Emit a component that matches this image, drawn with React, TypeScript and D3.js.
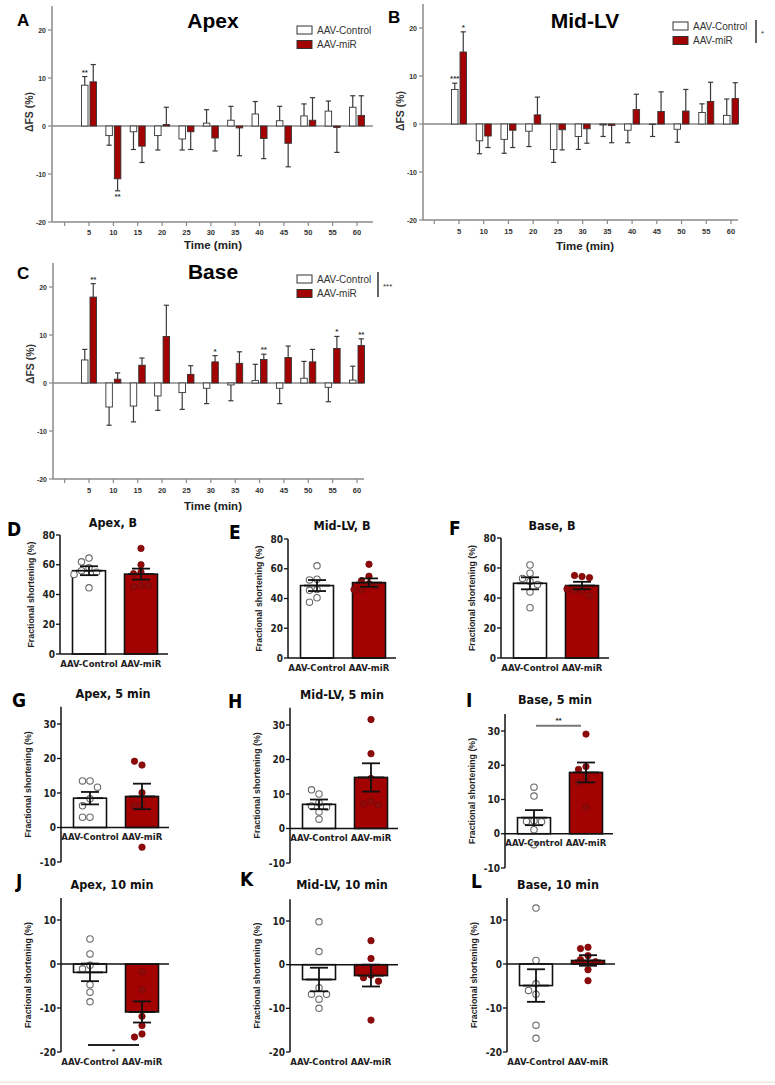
import * as d3 from "d3";

const RED = "#a30202";
const DOT_RED = "#8f0b0b";
const AXIS_GRAY = "#8a8a8a";
const SANS = "'Liberation Sans', Arial, Helvetica, sans-serif";
const NARROW = "'Liberation Sans Narrow', 'Arial Narrow', 'DejaVu Sans Condensed', sans-serif";

// time course (A-C)
const TIMES = [5, 10, 15, 20, 25, 30, 35, 40, 45, 50, 55, 60];
const X_TICKS = [0, ...TIMES];
const Y_TICKS_BIG = [20, 10, 0, -10, -20];
const GROUPS = ["AAV-Control", "AAV-miR"];

const apexCtrl = [8.5, -2.0, -1.2, -2.0, -2.7, 0.6, 1.2, 2.5, 1.1, 2.1, 3.1, 3.9];
const apexCtrlSem = [1.8, 2.0, 3.7, 3.0, 2.3, 2.8, 2.9, 2.6, 3.0, 2.5, 2.1, 2.4];
const apexMiR = [9.2, -11.0, -4.2, 0.3, -1.2, -2.5, -0.4, -2.6, -3.6, 1.2, -0.3, 2.2];
const apexMiRSem = [3.6, 2.5, 3.4, 3.6, 3.7, 2.7, 5.8, 4.2, 4.9, 4.7, 5.2, 4.1];

const midCtrl = [7.2, -3.5, -3.2, -1.5, -5.3, -2.6, -0.2, -1.3, -0.1, -1.1, 2.4, 1.8];
const midCtrlSem = [1.3, 2.7, 2.9, 3.2, 2.7, 2.7, 2.4, 2.6, 2.5, 2.7, 1.8, 3.4];
const midMiR = [15.0, -2.5, -1.3, 1.9, -1.2, -1.0, -0.3, 3.0, 2.6, 2.7, 4.7, 5.3];
const midMiRSem = [4.2, 2.4, 3.6, 3.7, 4.2, 3.0, 3.6, 3.2, 4.1, 4.5, 4.0, 3.3];

const baseCtrl = [4.8, -5.0, -4.8, -2.7, -2.0, -1.1, -0.4, 0.5, -1.1, 1.0, -0.9, 0.6];
const baseCtrlSem = [2.2, 3.8, 3.3, 3.0, 3.5, 3.2, 3.3, 3.4, 3.2, 3.5, 3.0, 2.9];
const baseMiR = [17.9, 0.8, 3.7, 9.7, 1.8, 4.4, 4.1, 4.9, 5.3, 4.4, 7.2, 7.8];
const baseMiRSem = [2.8, 1.3, 1.5, 6.5, 1.8, 1.3, 2.4, 1.1, 2.4, 2.6, 2.5, 1.4];

type Sig = { i: number; grp: 0 | 1; txt: string };
const apexSig: Sig[] = [{ i: 0, grp: 0, txt: "**" }, { i: 1, grp: 1, txt: "**" }];
const midSig: Sig[] = [{ i: 0, grp: 0, txt: "***" }, { i: 0, grp: 1, txt: "*" }];
const baseSig: Sig[] = [
  { i: 0, grp: 1, txt: "**" },
  { i: 5, grp: 1, txt: "*" },
  { i: 7, grp: 1, txt: "**" },
  { i: 10, grp: 1, txt: "*" },
  { i: 11, grp: 1, txt: "**" },
];

// individual animals (D-L)
const dCtrl = [64.5, 62, 58, 56, 55, 53.5, 44.5];
const dMiR = [71, 60, 55, 54, 46, 45, 46];
const dMean = [56, 53.7];
const dSem = [3.0, 3.7];

const eCtrl = [62, 53, 52.5, 46, 45.5, 40.5, 37.5];
const eMiR = [63, 55, 52, 50, 48, 46, 46];
const eMean = [48.7, 50.7];
const eSem = [3.7, 2.8];

const fCtrl = [62, 56.5, 53, 51, 49, 44, 33.5];
const fMiR = [54.3, 55, 53.6, 44.7, 44.7, 41.6, 46];
const fMean = [49.8, 48.3];
const fSem = [4.0, 2.5];

const gCtrl = [13.5, 13.5, 11.7, 8.3, 6.3, 3.0, 3.0];
const gMiR = [18.1, 19.2, 10.1, 6.6, 6.4, -5.7];
const gMean = [8.5, 9.0];
const gSem = [1.8, 3.7];

const hCtrl = [10.0, 11.2, 7.5, 6.5, 6.2, 4.8, 2.7];
const hMiR = [31.6, 21.7, 14.5, 7.9, 7.2, 6.8];
const hMean = [7.0, 14.8];
const hSem = [1.4, 4.1];

const iCtrl = [13.6, 11.0, 3.8, 3.6, 3.5, 1.2, -3.2];
const iMiR = [29.1, 19.6, 18.8, 16.5, 15.0, 7.7];
const iMean = [4.7, 17.9];
const iSem = [2.2, 2.9];

const jCtrl = [5.7, 2.3, -0.3, -1.1, -4.7, -6.4, -8.6];
const jMiR = [-1.7, -5.8, -11.9, -14.0, -15.9, -16.6];
const jMean = [-1.9, -10.9];
const jSem = [2.0, 2.4];

const kCtrl = [9.8, 3.0, -5.3, -6.8, -6.8, -7.9, -10.0];
const kMiR = [5.5, 1.4, -2.4, -3.0, -3.8, -12.7];
const kMean = [-3.4, -2.5];
const kSem = [2.7, 2.5];

const lCtrl = [12.7, 0.8, -4.5, -6.0, -6.9, -13.9, -16.9];
const lMiR = [3.8, 3.5, 1.9, 1.0, 0.5, -1.3, -3.8];
const lMean = [-4.9, 0.8];
const lSem = [3.7, 1.2];

const ROW1_TICKS = [0, 20, 40, 60, 80];
const ROW2_TICKS = [-10, 0, 10, 20, 30];
const ROW3_TICKS = [-20, -10, 0, 10];

type BigSpec = {
  letter: string; letterX: number; letterY: number;
  title: string; titleX: number; titleY: number;
  axisX: number; x5: number; x60: number; xEnd: number;
  yHi: number; yLo: number;
  legX: number; legY: number;
  legSig?: { x: number; y1: number; y2: number; txt: string };
  yLabelY: number; tickLabY: number; timeY: number;
  ctrl: number[]; ctrlSem: number[]; miR: number[]; miRSem: number[];
  sig: Sig[];
};

function BigPanel({ s }: { s: BigSpec }) {
  const x = d3.scaleLinear().domain([5, 60]).range([s.x5, s.x60]);
  const y = d3.scaleLinear().domain([-20, 20]).range([s.yLo, s.yHi]);
  const barW = 6.5;
  const series = [
    { vals: s.ctrl, sem: s.ctrlSem, off: -7.5, fill: "#fff" },
    { vals: s.miR, sem: s.miRSem, off: 1, fill: RED },
  ];
  const cxOf = (i: number, g: number) => x(TIMES[i]) + series[g].off + barW / 2;
  const endOf = (i: number, g: number) => {
    const m = series[g].vals[i];
    return m >= 0 ? m + series[g].sem[i] : m - series[g].sem[i];
  };
  return (
    <g>
      <text x={s.letterX} y={s.letterY} fontFamily={SANS} fontWeight="bold" fontSize={17}>{s.letter}</text>
      <text x={s.titleX} y={s.titleY} textAnchor="middle" fontFamily={SANS} fontWeight="bold" fontSize={21}>{s.title}</text>
      {/* axes */}
      <line x1={s.axisX} x2={s.axisX} y1={y(25)} y2={y(-20)} stroke={AXIS_GRAY} strokeWidth={1.5} />
      <line x1={s.axisX} x2={s.xEnd} y1={y(-20)} y2={y(-20)} stroke={AXIS_GRAY} strokeWidth={1.5} />
      <line x1={s.axisX} x2={s.xEnd} y1={y(0)} y2={y(0)} stroke={AXIS_GRAY} strokeWidth={1.3} />
      {Y_TICKS_BIG.map((t) => (
        <g key={t}>
          <line x1={s.axisX - 4} x2={s.axisX} y1={y(t)} y2={y(t)} stroke={AXIS_GRAY} strokeWidth={1.2} />
          <text x={s.axisX - 6} y={y(t) + 2.5} textAnchor="end" fontFamily={SANS} fontWeight="bold" fontSize={7} fill="#333">{t}</text>
        </g>
      ))}
      {X_TICKS.map((t) => (
        <g key={t}>
          <line x1={x(t)} x2={x(t)} y1={y(-20)} y2={y(-20) + 4} stroke={AXIS_GRAY} strokeWidth={1.2} />
          {t > 0 && (
            <text x={x(t)} y={s.tickLabY} textAnchor="middle" fontFamily={SANS} fontWeight="bold" fontSize={7.5} fill="#333">{t}</text>
          )}
        </g>
      ))}
      <text x={s.titleX} y={s.timeY} textAnchor="middle" fontFamily={SANS} fontWeight="bold" fontSize={11.5} fill="#222">Time (min)</text>
      <text transform={`translate(${s.axisX - 19},${s.yLabelY}) rotate(-90)`} textAnchor="middle" fontFamily={SANS} fontWeight="bold" fontSize={10.5} fill="#333">ΔFS (%)</text>
      {/* bars */}
      {series.map((se, g) =>
        se.vals.map((m, i) => {
          const bx = x(TIMES[i]) + se.off;
          const cx = bx + barW / 2;
          const e = endOf(i, g);
          return (
            <g key={`${g}-${i}`}>
              <line x1={cx} x2={cx} y1={y(m)} y2={y(e)} stroke="#3a3a3a" strokeWidth={1.2} />
              <line x1={cx - 2.6} x2={cx + 2.6} y1={y(e)} y2={y(e)} stroke="#3a3a3a" strokeWidth={1.2} />
              <rect x={bx} width={barW} y={Math.min(y(m), y(0))} height={Math.abs(y(m) - y(0))} fill={se.fill} stroke="#333" strokeWidth={0.9} />
            </g>
          );
        })
      )}
      {s.sig.map((sg, k) => {
        const e = endOf(sg.i, sg.grp);
        const yy = e >= 0 ? y(e) - 2 : y(e) + 8;
        return (
          <text key={k} x={cxOf(sg.i, sg.grp)} y={yy} textAnchor="middle" fontFamily={SANS} fontWeight="bold" fontSize={8} fill="#333">{sg.txt}</text>
        );
      })}
      {/* legend */}
      {GROUPS.map((gname, g) => (
        <g key={gname}>
          <rect x={s.legX} y={s.legY + g * 14.5} width={15} height={8} fill={g === 0 ? "#fff" : RED} stroke="#333" strokeWidth={1} />
          <text x={s.legX + 20} y={s.legY + g * 14.5 + 7.5} fontFamily={SANS} fontSize={10} fill="#333">{gname}</text>
        </g>
      ))}
      {s.legSig && (
        <g>
          <line x1={s.legSig.x} x2={s.legSig.x} y1={s.legSig.y1} y2={s.legSig.y2} stroke="#333" strokeWidth={1.5} />
          <text x={s.legSig.x + 5} y={(s.legSig.y1 + s.legSig.y2) / 2 + 4} fontFamily={SANS} fontSize={8} fill="#333">{s.legSig.txt}</text>
        </g>
      )}
    </g>
  );
}

type SmallSpec = {
  letter: string; letterX: number; letterY: number;
  title: string; titleX: number; titleY: number;
  axisX: number; dom: [number, number]; rng: [number, number]; top: number;
  ticks: number[]; labAtBottom: boolean;
  ctrl: number[]; miR: number[]; mean: number[]; sem: number[];
  sig?: { val: number; txt: string; below: boolean; x1: number; x2: number; color: string };
};

function swarm(vals: number[], y: (v: number) => number, cx: number, r: number, step: number) {
  const placed: { x: number; y: number }[] = [];
  return vals.map((v) => {
    const py = y(v);
    for (const k of [0, -1, 1, -2, 2, -3, 3]) {
      const px = cx + k * step;
      if (placed.every((p) => Math.hypot(p.x - px, p.y - py) >= 2 * r + 0.6)) {
        placed.push({ x: px, y: py });
        return { x: px, y: py };
      }
    }
    const p = { x: cx, y: py };
    placed.push(p);
    return p;
  });
}

function SmallPanel({ s }: { s: SmallSpec }) {
  const y = d3.scaleLinear().domain(s.dom).range(s.rng);
  const ax = s.axisX;
  const cxs = [ax + 29, ax + 81];
  const barW = 33;
  const r = 3.2;
  const labY = (s.labAtBottom ? y(s.dom[0]) : y(0)) + 12.5;
  const ptsC = swarm(s.ctrl, y, cxs[0], r, 7.5);
  const ptsM = swarm(s.miR, y, cxs[1], r, 7.5);
  const midY = (y(s.top) + y(s.dom[0])) / 2;
  return (
    <g>
      <text x={s.letterX} y={s.letterY} fontFamily={NARROW} fontWeight="bold" fontSize={19}>{s.letter}</text>
      <text x={s.titleX} y={s.titleY} textAnchor="middle" fontFamily={NARROW} fontWeight="bold" fontSize={12.5} fill="#111">{s.title}</text>
      {/* bars */}
      {s.mean.map((m, g) => (
        <rect key={g} x={cxs[g] - barW / 2} width={barW} y={Math.min(y(m), y(0))} height={Math.abs(y(m) - y(0))} fill={g === 0 ? "#fff" : RED} stroke="#111" strokeWidth={1.6} />
      ))}
      {/* points */}
      {ptsC.map((p, k) => (
        <circle key={`c${k}`} cx={p.x} cy={p.y} r={r} fill="#fff" stroke="#6a6a6a" strokeWidth={1.1} />
      ))}
      {ptsM.map((p, k) => (
        <circle key={`m${k}`} cx={p.x} cy={p.y} r={r} fill={DOT_RED} stroke="#7a0606" strokeWidth={0.8} />
      ))}
      {/* mean +/- SEM */}
      {s.mean.map((m, g) => {
        const cx = cxs[g];
        return (
          <g key={`e${g}`} stroke="#111" strokeWidth={1.8}>
            <line x1={cx} x2={cx} y1={y(m - s.sem[g])} y2={y(m + s.sem[g])} />
            <line x1={cx - 9} x2={cx + 9} y1={y(m - s.sem[g])} y2={y(m - s.sem[g])} />
            <line x1={cx - 9} x2={cx + 9} y1={y(m + s.sem[g])} y2={y(m + s.sem[g])} />
            <line x1={cx - 13} x2={cx + 13} y1={y(m)} y2={y(m)} />
          </g>
        );
      })}
      {/* axes */}
      <line x1={ax} x2={ax} y1={y(s.top)} y2={y(s.dom[0])} stroke="#111" strokeWidth={1.5} />
      <line x1={ax} x2={ax + 108} y1={y(0)} y2={y(0)} stroke="#111" strokeWidth={1.5} />
      {s.ticks.map((t) => (
        <g key={t}>
          <line x1={ax - 4} x2={ax} y1={y(t)} y2={y(t)} stroke="#111" strokeWidth={1.3} />
          <text x={ax - 5} y={y(t) + 3.5} textAnchor="end" fontFamily={NARROW} fontWeight="bold" fontSize={10} fill="#222">{t}</text>
        </g>
      ))}
      {GROUPS.map((gname, g) => (
        <text key={gname} x={cxs[g]} y={labY} textAnchor="middle" fontFamily={NARROW} fontWeight="bold" fontSize={9.5} fill="#222">{gname}</text>
      ))}
      <text transform={`translate(${ax - (s.ticks[0] < 0 ? 30 : 26)},${midY}) rotate(-90)`} textAnchor="middle" fontFamily={SANS} fontWeight="bold" fontSize={8.8} fill="#222">Fractional shortening (%)</text>
      {s.sig && (
        <g>
          <line x1={cxs[0] + s.sig.x1} x2={cxs[1] + s.sig.x2} y1={y(s.sig.val)} y2={y(s.sig.val)} stroke={s.sig.color} strokeWidth={2} />
          <text x={(cxs[0] + s.sig.x1 + cxs[1] + s.sig.x2) / 2} y={s.sig.below ? y(s.sig.val) + 9 : y(s.sig.val) - 3} textAnchor="middle" fontFamily={SANS} fontWeight="bold" fontSize={8} fill="#222">{s.sig.txt}</text>
        </g>
      )}
    </g>
  );
}

const bigSpecs: BigSpec[] = [
  {
    letter: "A", letterX: 17, letterY: 26, title: "Apex", titleX: 213, titleY: 28,
    axisX: 52, x5: 89, x60: 357, xEnd: 373, yHi: 30, yLo: 222,
    legX: 297, legY: 26, yLabelY: 112, tickLabY: 235, timeY: 249,
    ctrl: apexCtrl, ctrlSem: apexCtrlSem, miR: apexMiR, miRSem: apexMiRSem, sig: apexSig,
  },
  {
    letter: "B", letterX: 388, letterY: 23, title: "Mid-LV", titleX: 585, titleY: 28,
    axisX: 423, x5: 459, x60: 731, xEnd: 738, yHi: 28, yLo: 220,
    legX: 673, legY: 22, legSig: { x: 756, y1: 20, y2: 43, txt: "*" },
    yLabelY: 111, tickLabY: 234, timeY: 250,
    ctrl: midCtrl, ctrlSem: midCtrlSem, miR: midMiR, miRSem: midMiRSem, sig: midSig,
  },
  {
    letter: "C", letterX: 17, letterY: 279, title: "Base", titleX: 213, titleY: 279,
    axisX: 53, x5: 89, x60: 357, xEnd: 364, yHi: 287, yLo: 479,
    legX: 297, legY: 275, legSig: { x: 378, y1: 272, y2: 297, txt: "***" },
    yLabelY: 364, tickLabY: 493, timeY: 510,
    ctrl: baseCtrl, ctrlSem: baseCtrlSem, miR: baseMiR, miRSem: baseMiRSem, sig: baseSig,
  },
];

const smallSpecs: SmallSpec[] = [
  { letter: "D", letterX: 7, letterY: 536, title: "Apex, B", titleX: 113, titleY: 527, axisX: 60, dom: [0, 80], rng: [654, 535], top: 80, ticks: ROW1_TICKS, labAtBottom: false, ctrl: dCtrl, miR: dMiR, mean: dMean, sem: dSem },
  { letter: "E", letterX: 229, letterY: 539, title: "Mid-LV, B", titleX: 342, titleY: 530, axisX: 288, dom: [0, 80], rng: [658, 539], top: 80, ticks: ROW1_TICKS, labAtBottom: false, ctrl: eCtrl, miR: eMiR, mean: eMean, sem: eSem },
  { letter: "F", letterX: 449, letterY: 535, title: "Base, B", titleX: 552, titleY: 530, axisX: 501, dom: [0, 80], rng: [658, 538], top: 80, ticks: ROW1_TICKS, labAtBottom: false, ctrl: fCtrl, miR: fMiR, mean: fMean, sem: fSem },
  { letter: "G", letterX: 12, letterY: 707, title: "Apex, 5 min", titleX: 113, titleY: 698, axisX: 61, dom: [-10, 30], rng: [862, 724], top: 35, ticks: ROW2_TICKS, labAtBottom: false, ctrl: gCtrl, miR: gMiR, mean: gMean, sem: gSem },
  { letter: "H", letterX: 228, letterY: 708, title: "Mid-LV, 5 min", titleX: 342, titleY: 699, axisX: 290, dom: [-10, 30], rng: [863, 725], top: 35, ticks: ROW2_TICKS, labAtBottom: false, ctrl: hCtrl, miR: hMiR, mean: hMean, sem: hSem },
  { letter: "I", letterX: 466, letterY: 707, title: "Base, 5 min", titleX: 555, titleY: 704, axisX: 505, dom: [-10, 30], rng: [868, 731], top: 35, ticks: ROW2_TICKS, labAtBottom: false, ctrl: iCtrl, miR: iMiR, mean: iMean, sem: iSem, sig: { val: 31.5, txt: "**", below: false, x1: 2, x2: -5, color: "#777" } },
  { letter: "J", letterX: 16, letterY: 888, title: "Apex, 10 min", titleX: 112, titleY: 889, axisX: 61, dom: [-20, 10], rng: [1052, 920], top: 15, ticks: ROW3_TICKS, labAtBottom: true, ctrl: jCtrl, miR: jMiR, mean: jMean, sem: jSem, sig: { val: -18.4, txt: "*", below: true, x1: -2, x2: -3, color: "#222" } },
  { letter: "K", letterX: 240, letterY: 886, title: "Mid-LV, 10 min", titleX: 342, titleY: 889, axisX: 290, dom: [-20, 10], rng: [1052, 921], top: 15, ticks: ROW3_TICKS, labAtBottom: true, ctrl: kCtrl, miR: kMiR, mean: kMean, sem: kSem },
  { letter: "L", letterX: 471, letterY: 888, title: "Base, 10 min", titleX: 558, titleY: 889, axisX: 507, dom: [-20, 10], rng: [1052, 920], top: 15, ticks: ROW3_TICKS, labAtBottom: true, ctrl: lCtrl, miR: lMiR, mean: lMean, sem: lSem },
];

export default function App() {
  return (
    <svg width={775} height={1085} style={{ position: "absolute", left: 0, top: 0, background: "#fff" }}>
      <rect width={775} height={1085} fill="#fff" />
      {bigSpecs.map((s) => (
        <BigPanel key={s.letter} s={s} />
      ))}
      {smallSpecs.map((s) => (
        <SmallPanel key={s.letter} s={s} />
      ))}
      <line x1={0} x2={775} y1={1082} y2={1082} stroke="#efeadb" strokeWidth={1.5} />
    </svg>
  );
}
